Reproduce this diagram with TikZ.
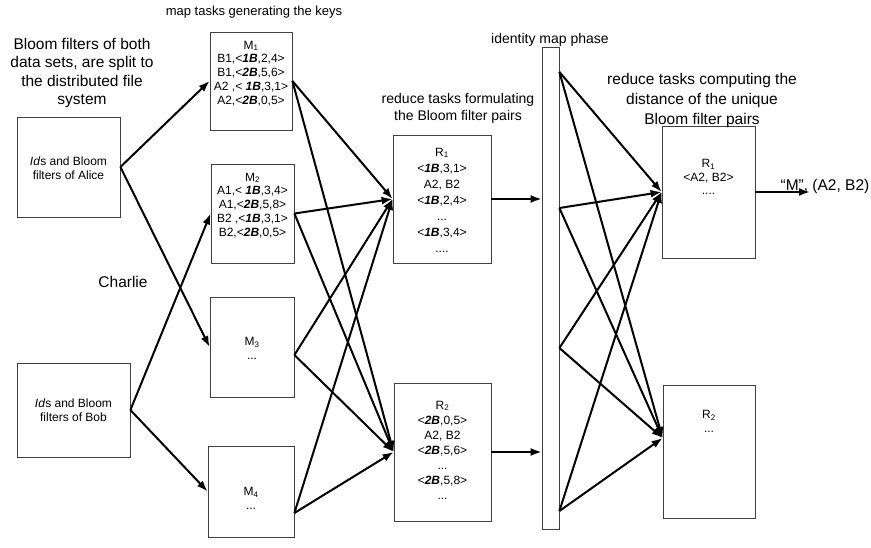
\documentclass[tikz,border=0pt]{standalone}
\usepackage{fontspec}
\setmainfont{Liberation Sans}
\usetikzlibrary{arrows.meta}

\newcommand{\bk}[1]{\textbf{\textit{#1}}}

\begin{document}
\begin{tikzpicture}[x=1pt,y=-1pt,>={Latex[length=11pt,width=8pt]},
  box/.style={draw=black!75,line width=.8pt,inner sep=0pt},
  txt/.style={align=center,inner sep=0pt,font=\fontsize{12}{13.8}\selectfont},
  note/.style={align=center,inner sep=0pt,font=\fontsize{15.5}{18.5}\selectfont},
  arr/.style={->,line width=2pt}]
  \useasboundingbox (0,0) rectangle (871,548);

  % input data sets
  \node[box,minimum width=103pt,minimum height=100pt] (alice) at (68.5,167) {};
  \node[txt] (alicetxt) at (68.5,168) {\textit{Id}s and Bloom\\filters of Alice};
  \node[box,minimum width=113pt,minimum height=94pt] (bob) at (73.5,410) {};
  \node[txt] (bobtxt) at (73.5,410) {\textit{Id}s and Bloom\\filters of Bob};

  % map tasks
  \node[box,minimum width=82pt,minimum height=98pt] (m1) at (251,81) {};
  \node[txt,below=9pt] at (m1.north) {M\textsubscript{1}\\B1,<\bk{1B},2,4>\\B1,<\bk{2B},5,6>\\A2 ,< \bk{1B},3,1>\\A2,<\bk{2B},0,5>};
  \node[box,minimum width=83pt,minimum height=99pt] (m2) at (252.5,213.5) {};
  \node[txt,below=9pt] at (m2.north) {M\textsubscript{2}\\A1,< \bk{1B},3,4>\\A1,<\bk{2B},5,8>\\B2 ,<\bk{1B},3,1>\\B2,<\bk{2B},0,5>};
  \node[box,minimum width=84pt,minimum height=100pt] (m3) at (252,347) {};
  \node[txt] at (252,348) {M\textsubscript{3}\\...};
  \node[box,minimum width=86pt,minimum height=91pt] (m4) at (251,491.5) {};
  \node[txt] at (251,498) {M\textsubscript{4}\\...};
  \coordinate (m3out) at (m3.east |- 0,355);
  \coordinate (m4out) at (m4.east |- 0,513);

  % reduce tasks building the pairs
  \node[box,minimum width=98pt,minimum height=128pt] (r1) at (442,199) {};
  \node[txt,font=\fontsize{12}{16}\selectfont] at (442,200) {R\textsubscript{1}\\<\bk{1B},3,1>\\A2, B2\\<\bk{1B},2,4>\\...\\<\bk{1B},3,4>\\....};
  \node[box,minimum width=97pt,minimum height=138pt] (r2) at (442.5,452) {};
  \node[txt,font=\fontsize{12}{15}\selectfont] at (442.5,450) {R\textsubscript{2}\\<\bk{2B},0,5>\\A2, B2\\<\bk{2B},5,6>\\...\\<\bk{2B},5,8>\\...};

  % identity map
  \node[box,minimum width=17pt,minimum height=482pt] (idmap) at (550.5,288) {};
  \foreach \y/\n in {72/1,208/2,348/3,511/4}
    \coordinate (id\n) at (idmap.east |- 0,\y);

  % reduce tasks computing the distance
  \node[box,minimum width=93pt,minimum height=132pt] (d1) at (708.5,192) {};
  \node[txt] at (708.5,177) {R\textsubscript{1}\\<A2, B2>\\....};
  \node[box,minimum width=92pt,minimum height=133pt] (d2) at (709,451.5) {};
  \node[txt] at (709,421) {R\textsubscript{2}\\...};
  \coordinate (d2in) at (d2.west |- 0,438);

  % captions
  \node[note] (split) at (82,73) {Bloom filters of both\\data sets, are split to\\the distributed file\\system};
  \node[note,font=\fontsize{13}{15}\selectfont] (mapcap) at (254,12) {map tasks generating the keys};
  \node[note] (charlie) at (123,282) {Charlie};
  \node[note,font=\fontsize{14}{17}\selectfont] (pairs) at (458,108) {reduce tasks formulating\\the Bloom filter pairs};
  \node[note,font=\fontsize{14}{15}\selectfont] (idcap) at (550,40) {identity map phase};
  \node[note,font=\fontsize{15.5}{20}\selectfont] (distcap) at (702,100) {reduce tasks computing the\\distance of the unique\\Bloom filter pairs};

  % splitting the inputs
  \draw[arr] (alice.east) -- (m1.west);
  \draw[arr] (alice.east) -- (m3.west);
  \draw[arr] (bob.east) -- (m2.west);
  \draw[arr] (bob.east) -- (m4.west);

  % shuffle to the reducers
  \foreach \m in {m1.east,m2.east,m3out,m4out} {
    \draw[arr] (\m) -- (r1.west);
    \draw[arr] (\m) -- (r2.west);
  }
  \draw[arr] (r1.east) -- (r1.east -| idmap.west);
  \draw[arr] (r2.east) -- (r2.east -| idmap.west);

  \foreach \n in {1,...,4} {
    \draw[arr] (id\n) -- (d1.west);
    \draw[arr] (id\n) -- (d2in);
  }

  % result
  \coordinate (res) at (810,192);
  \draw[arr] (d1.east) -- (res);
  \node[note] (out) at (825,186) {“M”, (A2, B2)};
\end{tikzpicture}
\end{document}
